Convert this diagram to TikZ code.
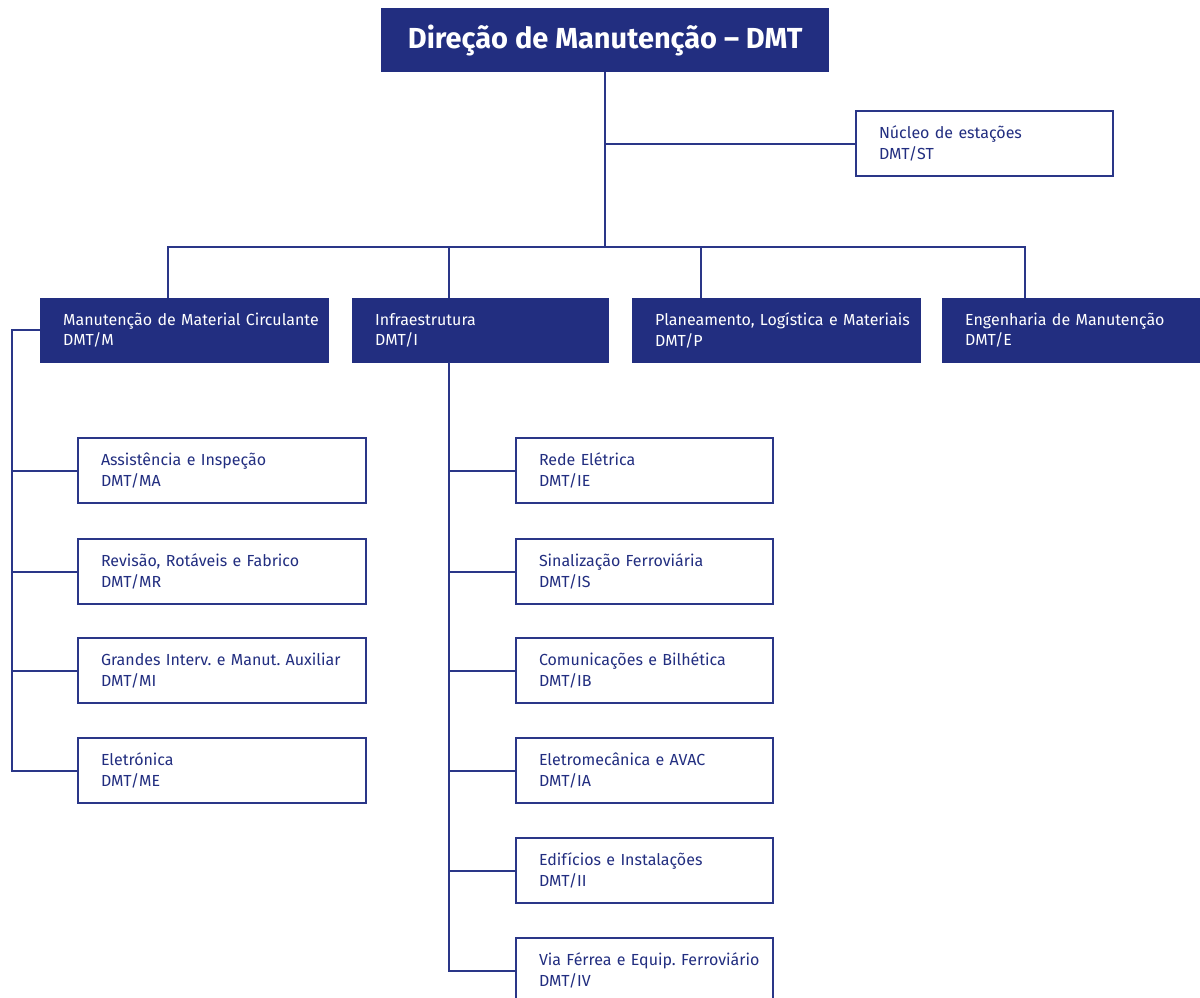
\documentclass[tikz,border=0pt]{standalone}
\usepackage{fontspec}
\setmainfont{Fira Sans}
\frenchspacing
\usetikzlibrary{calc}
\definecolor{navy}{HTML}{222E80}
\definecolor{linecol}{HTML}{2A3688}
% two-line unit label: name, then code; the name never wraps
\newcommand\unitlabel[2]{\mbox{#1}\\#2}
\tikzset{
  darkbox/.style={fill=navy, draw=navy, text=white, anchor=north west,
    minimum height=64, inner xsep=23, inner ysep=0, align=left, text width=#1,
    font=\fontsize{16}{20.5}\selectfont},
  whitebox/.style={fill=white, draw=linecol, line width=2pt, text=navy, anchor=north west,
    minimum height=65, inner xsep=23, inner ysep=0, align=left, text width=#1,
    font=\fontsize{16}{20.5}\selectfont},
  conn/.style={draw=linecol, line width=2pt},
}
\begin{document}
\begin{tikzpicture}[x=1pt, y=-1pt]
\clip (0,0) rectangle (1200,998);
\useasboundingbox (0,0) rectangle (1200,998);
\fill[white] (0,0) rectangle (1200,998);

% head of the directorate
\node[fill=navy, text=white, anchor=north west, minimum width=448, minimum height=64,
  inner sep=0, font=\fontsize{29}{33}\selectfont\bfseries] (top) at (381,8)
  {Direção de Manutenção -- DMT};

% station unit
\node[whitebox=211] (st) at (855,110) {\unitlabel{Núcleo de estações}{DMT/ST}};

% departments
\node[darkbox=242] (m) at (40,298) {\unitlabel{Manutenção de Material Circulante}{DMT/M}};
\node[darkbox=210] (i) at (352,298) {\unitlabel{Infraestrutura}{DMT/I}};
\node[darkbox=242] (p) at (632,298) {\unitlabel{Planeamento, Logística e Materiais}{DMT/P}};
\node[darkbox=212] (e) at (942,298) {\unitlabel{Engenharia de Manutenção}{DMT/E}};

% rolling stock units
\node[whitebox=242] (ma) at (77,437) {\unitlabel{Assistência e Inspeção}{DMT/MA}};
\node[whitebox=242] (mr) at (77,538) {\unitlabel{Revisão, Rotáveis e Fabrico}{DMT/MR}};
\node[whitebox=242] (mi) at (77,637) {\unitlabel{Grandes Interv. e Manut. Auxiliar}{DMT/MI}};
\node[whitebox=242] (me) at (77,737) {\unitlabel{Eletrónica}{DMT/ME}};

% infrastructure units
\node[whitebox=211] (ie) at (515,437) {\unitlabel{Rede Elétrica}{DMT/IE}};
\node[whitebox=211] (is) at (515,538) {\unitlabel{Sinalização Ferroviária}{DMT/IS}};
\node[whitebox=211] (ib) at (515,637) {\unitlabel{Comunicações e Bilhética}{DMT/IB}};
\node[whitebox=211] (ia) at (515,737) {\unitlabel{Eletromecânica e AVAC}{DMT/IA}};
\node[whitebox=211] (ii) at (515,837) {\unitlabel{Edifícios e Instalações}{DMT/II}};
\node[whitebox=211] (iv) at (515,937) {\unitlabel{Via Férrea e Equip. Ferroviário}{DMT/IV}};

% attachment points
\coordinate (busy) at (0,247);
\coordinate (dm) at ($(m.north west)+(128,0)$);
\coordinate (di) at ($(i.north west)+(97,0)$);
\coordinate (dp) at ($(p.north west)+(69,0)$);
\coordinate (de) at ($(e.north west)+(83,0)$);
\coordinate (lspine) at (12,0);
\coordinate (ispine) at ($(i.south west)+(97,0)$);

% top level connectors
\draw[conn] (top.south) -- (top.south |- busy);
\draw[conn] (st.west) -- (st.west -| top.south);
\draw[conn] (dm) -- (dm |- busy) -- (de |- busy) -- (de);
\draw[conn] (di) -- (di |- busy);
\draw[conn] (dp) -- (dp |- busy);

% rolling stock branch
\draw[conn] (m.west) -- (m.west -| lspine) -- (me.west -| lspine) -- (me.west);
\foreach \n in {ma,mr,mi}
  \draw[conn] (\n.west) -- (\n.west -| lspine);

% infrastructure branch
\draw[conn] (ispine) |- (iv.west);
\foreach \n in {ie,is,ib,ia,ii}
  \draw[conn] (\n.west) -- (\n.west -| ispine);
\end{tikzpicture}
\end{document}
